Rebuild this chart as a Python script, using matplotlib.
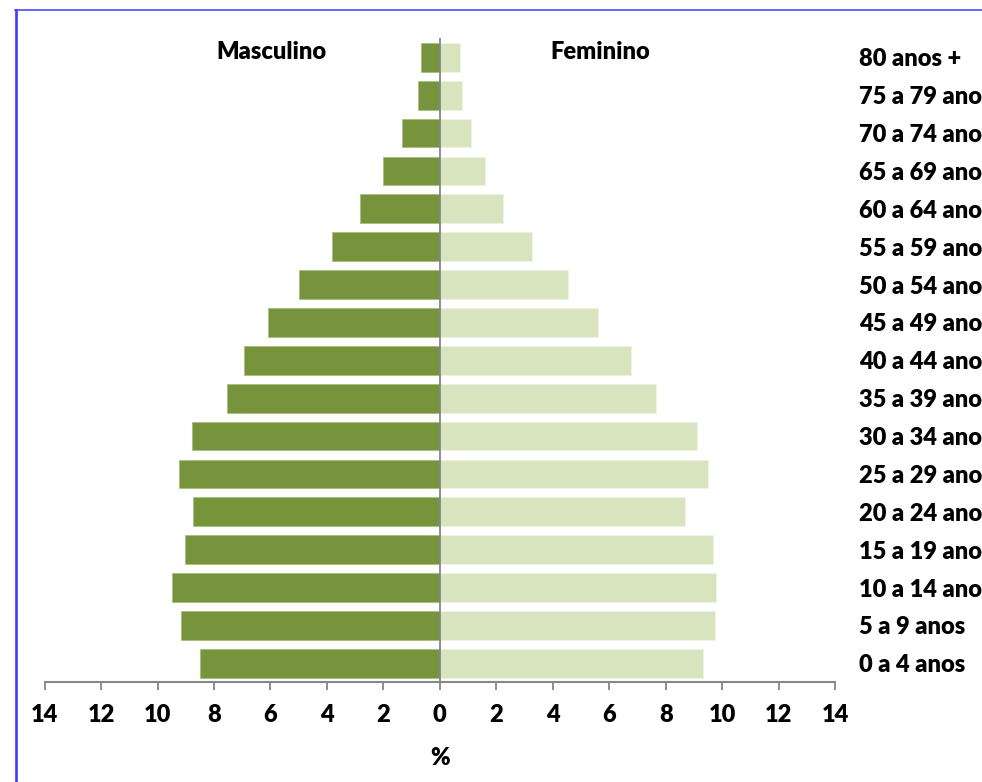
import matplotlib
matplotlib.use("Agg")
import matplotlib.pyplot as plt
from matplotlib.lines import Line2D
import numpy as np

plt.rcParams['font.family'] = ['Lato', 'DejaVu Sans']

age_groups = ["0 a 4 anos", "5 a 9 anos", "10 a 14 anos", "15 a 19 anos", "20 a 24 anos",
              "25 a 29 anos", "30 a 34 anos", "35 a 39 anos", "40 a 44 anos", "45 a 49 anos",
              "50 a 54 anos", "55 a 59 anos", "60 a 64 anos", "65 a 69 anos", "70 a 74 anos",
              "75 a 79 anos", "80 anos +"]
masculino = [8.49, 9.16, 9.48, 9.02, 8.76, 9.23, 8.78, 7.53, 6.95, 6.08,
             4.99, 3.81, 2.82, 2.02, 1.33, 0.78, 0.67]
feminino = [9.31, 9.76, 9.80, 9.66, 8.67, 9.51, 9.10, 7.66, 6.77, 5.62,
            4.53, 3.28, 2.25, 1.61, 1.12, 0.78, 0.71]
x_ticks = [-14, -12, -10, -8, -6, -4, -2, 0, 2, 4, 6, 8, 10, 12, 14]
x_tick_labels = [str(abs(v)) for v in x_ticks]

FS = 17
W, H = 982, 782
fig = plt.figure(figsize=(W / 100, H / 100), dpi=100)
fig.patch.set_facecolor('white')
ax = fig.add_axes([44.7 / W, (H - 682.2) / H, (835 - 44.7) / W, (682.2 - 38.4) / H])

y = np.arange(len(age_groups))
ax.barh(y, [-v for v in masculino], height=0.757, color='#77933C', edgecolor='#A9BF7E', linewidth=0.6)
ax.barh(y, feminino, height=0.757, color='#D7E4BD', edgecolor='#EEF3E3', linewidth=0.6)

ax.set_xlim(-14, 14)
ax.set_ylim(-0.5, len(age_groups) - 0.5)
ax.axvline(0, color='#868686', lw=1.3, zorder=3)

for s in ['top', 'left', 'right']:
    ax.spines[s].set_visible(False)
ax.spines['bottom'].set_color('#868686')
ax.spines['bottom'].set_linewidth(1.5)

ax.set_xticks(x_ticks)
ax.set_xticklabels(x_tick_labels, fontsize=FS, fontweight='heavy')
ax.tick_params(axis='x', direction='out', length=5.8, width=1.3, color='#868686', pad=10)

ax.yaxis.tick_right()
ax.set_yticks(y)
ax.set_yticklabels(age_groups, fontsize=FS, fontweight='heavy', ha='left')
ax.tick_params(axis='y', length=0, pad=17)

ax.set_xlabel('%', fontsize=FS, fontweight='heavy', labelpad=15)

ax.text(-5.95, 16.14, 'Masculino', fontsize=FS, fontweight='heavy', ha='center', va='center')
ax.text(5.67, 16.14, 'Feminino', fontsize=FS, fontweight='heavy', ha='center', va='center')

# border
fig.add_artist(Line2D([15.5 / W, 15.5 / W], [-0.01, 1 - 9.5 / H], transform=fig.transFigure,
                      color='#3C3CFF', lw=1.9))
fig.add_artist(Line2D([15 / W, 1.01], [1 - 9.5 / H, 1 - 9.5 / H], transform=fig.transFigure,
                      color='#3C3CFF', lw=1.1))

fig.savefig('out.png', dpi=100, facecolor='white')
